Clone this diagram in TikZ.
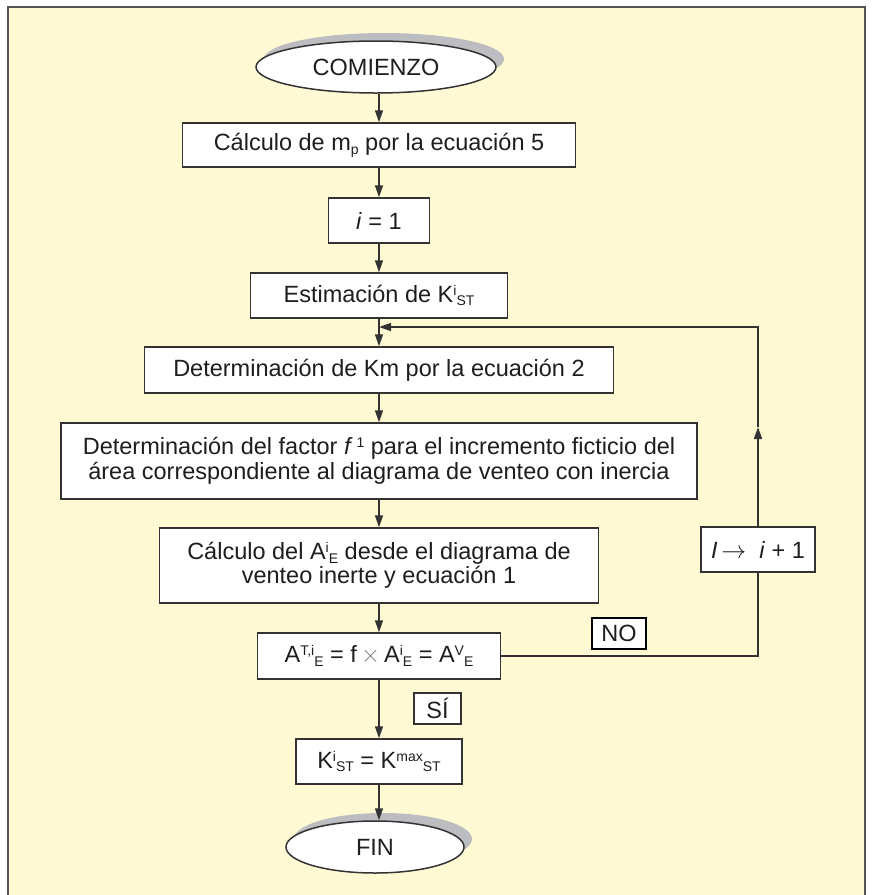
\documentclass[tikz,border=0pt]{standalone}
\usepackage{fontspec}
\setmainfont{Liberation Sans}
\usetikzlibrary{shapes.geometric,arrows.meta,shadows}
\definecolor{bgc}{HTML}{FFF9D4}
\definecolor{linec}{HTML}{333333}
\definecolor{shadc}{HTML}{BCBDC1}
\definecolor{framec}{HTML}{555555}
\definecolor{txtc}{HTML}{1E1E1E}
\newcommand\Sup[1]{\raisebox{0.3em}{\fontsize{14}{14}\selectfont #1}}
\newcommand\Sub[1]{\raisebox{-0.16em}{\fontsize{14}{14}\selectfont #1}}
\begin{document}
\begin{tikzpicture}[x=1pt,y=-1pt,
  font=\fontsize{23.5}{24.5}\selectfont,
  proc/.style={draw=linec,line width=1.5pt,fill=white,inner sep=0pt,align=center,text=txtc},
  term/.style={ellipse,draw=linec,line width=1.5pt,fill=white,inner sep=0pt,text=txtc,
    drop shadow={shadow xshift=8pt,shadow yshift=8pt,fill=shadc,opacity=1}},
  tag/.style={draw=linec,line width=1.5pt,fill=white,inner sep=0pt,text=txtc},
  conn/.style={line width=1.5pt,draw=linec},
  arr/.style={conn,-{Triangle[length=12pt,width=8pt]}}]
\useasboundingbox (0,0) rectangle (871,895);
\fill[white] (0,0) rectangle (871,895);
\draw[fill=bgc,draw=framec,line width=2pt] (8,7) rectangle (865,905);

\node[term,minimum width=240pt,minimum height=52pt] (start) at (376,67) {COMIENZO};
\node[proc,minimum width=393pt,minimum height=44pt] (calc) at (379,145) {Cálculo de m\Sub{p} por la ecuación 5};
\node[proc,minimum width=101pt,minimum height=45pt] (ione) at (379,220.5) {\textit{i} = 1};
\node[proc,minimum width=257pt,minimum height=45pt] (estim) at (379,295.5) {Estimación de K\Sup{i}\Sub{ST}};
\node[proc,minimum width=469pt,minimum height=46pt] (km) at (379,370) {Determinación de Km por la ecuación 2};
\node[proc,minimum width=636pt,minimum height=76pt] (fact) at (379,461) {Determinación del factor \textit{f}\,\Sup{1} para el incremento ficticio del\\área correspondiente al diagrama de venteo con inercia};
\node[proc,minimum width=439pt,minimum height=75pt] (cdel) at (379,565.5) {Cálculo del A\Sup{i}\Sub{E} desde el diagrama de\\venteo inerte y ecuación 1};
\node[proc,minimum width=243pt,minimum height=46pt] (at) at (379,656) {A\Sup{T,i}\Sub{E} = f\,{\color{gray}$\times$}\,A\Sup{i}\Sub{E} = A\Sup{V}\Sub{E}};
\node[proc,minimum width=166pt,minimum height=45pt] (kst) at (379,761.5) {K\Sup{i}\Sub{ST} = K\Sup{max}\Sub{ST}};
\node[term,minimum width=178pt,minimum height=52pt] (fin) at (375,847) {FIN};
\node[proc,minimum width=114pt,minimum height=45pt] (loopb) at (758,549.5) {\textit{I}\,$\rightarrow$\; \textit{i} + 1};
\node[tag,draw=black,line width=2.6pt,minimum width=54pt,minimum height=31pt] (no) at (619,633.5) {NO};
\node[tag,minimum width=47pt,minimum height=31pt] (si) at (437.5,708.5) {SÍ};

\coordinate (up) at (758,427);
\coordinate (top) at (758,327);
\coordinate (join) at (379,327);

\draw[arr] (calc.north |- start.south) -- (calc.north);
\draw[arr] (calc.south) -- (ione.north);
\draw[arr] (ione.south) -- (estim.north);
\draw[arr] (estim.south) -- (km.north);
\draw[arr] (km.south) -- (fact.north);
\draw[arr] (fact.south) -- (cdel.north);
\draw[arr] (cdel.south) -- (at.north);
\draw[arr] (at.south) -- (kst.north);
\draw[arr] (kst.south) -- (kst.south |- fin.north);
\draw[conn] (at.east) -| (loopb.south);
\draw[arr] (loopb.north) -- (up);
\draw[arr] (up) -- (top) -- (join);
\end{tikzpicture}
\end{document}
